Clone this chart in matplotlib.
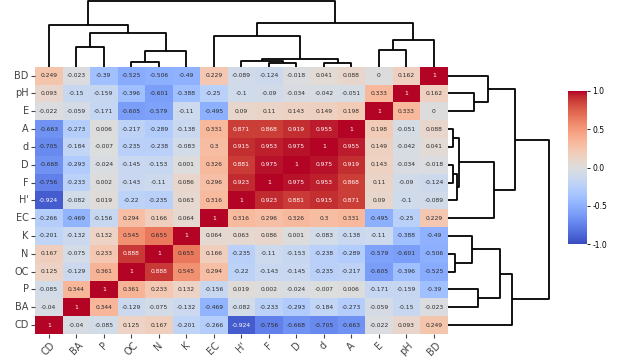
import numpy as np
import pandas as pd
import matplotlib
matplotlib.use("Agg")
import matplotlib.pyplot as plt
import seaborn as sns

plt.rcParams["axes.unicode_minus"] = False

labels = ["CD", "BA", "P", "OC", "N", "K", "EC", "H'", "F", "D", "d", "A", "E", "pH", "BD"]

corr_CD = [1, -0.04, -0.085, 0.125, 0.167, -0.201, -0.266, -0.924, -0.756, -0.668, -0.705, -0.663, -0.022, 0.093, 0.249]
corr_BA = [-0.04, 1, 0.344, -0.129, -0.075, -0.132, -0.469, -0.082, -0.233, -0.293, -0.184, -0.273, -0.059, -0.15, -0.023]
corr_P = [-0.085, 0.344, 1, 0.361, 0.233, 0.132, -0.156, 0.019, 0.002, -0.024, -0.007, 0.006, -0.171, -0.159, -0.39]
corr_OC = [0.125, -0.129, 0.361, 1, 0.888, 0.545, 0.294, -0.22, -0.143, -0.145, -0.235, -0.217, -0.605, -0.396, -0.525]
corr_N = [0.167, -0.075, 0.233, 0.888, 1, 0.655, 0.166, -0.235, -0.11, -0.153, -0.238, -0.289, -0.579, -0.601, -0.506]
corr_K = [-0.201, -0.132, 0.132, 0.545, 0.655, 1, 0.064, 0.063, 0.086, 0.001, -0.083, -0.138, -0.11, -0.388, -0.49]
corr_EC = [-0.266, -0.469, -0.156, 0.294, 0.166, 0.064, 1, 0.316, 0.296, 0.326, 0.3, 0.331, -0.495, -0.25, 0.229]
corr_Hp = [-0.924, -0.082, 0.019, -0.22, -0.235, 0.063, 0.316, 1, 0.923, 0.881, 0.915, 0.871, 0.09, -0.1, -0.089]
corr_F = [-0.756, -0.233, 0.002, -0.143, -0.11, 0.086, 0.296, 0.923, 1, 0.975, 0.953, 0.868, 0.11, -0.09, -0.124]
corr_D = [-0.668, -0.293, -0.024, -0.145, -0.153, 0.001, 0.326, 0.881, 0.975, 1, 0.975, 0.919, 0.143, -0.034, -0.018]
corr_d = [-0.705, -0.184, -0.007, -0.235, -0.238, -0.083, 0.3, 0.915, 0.953, 0.975, 1, 0.955, 0.149, -0.042, 0.041]
corr_A = [-0.663, -0.273, 0.006, -0.217, -0.289, -0.138, 0.331, 0.871, 0.868, 0.919, 0.955, 1, 0.198, -0.051, 0.088]
corr_E = [-0.022, -0.059, -0.171, -0.605, -0.579, -0.11, -0.495, 0.09, 0.11, 0.143, 0.149, 0.198, 1, 0.333, 0]
corr_pH = [0.093, -0.15, -0.159, -0.396, -0.601, -0.388, -0.25, -0.1, -0.09, -0.034, -0.042, -0.051, 0.333, 1, 0.162]
corr_BD = [0.249, -0.023, -0.39, -0.525, -0.506, -0.49, 0.229, -0.089, -0.124, -0.018, 0.041, 0.088, 0, 0.162, 1]

# hierarchical clustering tree (name, left child, right child, relative height)
merges = [
    ("c0", "OC", "N", 0.07),
    ("c1", "F", "D", 0.05),
    ("c2", "d", "A", 0.05),
    ("c3", "H'", "c1", 0.09),
    ("c4", "c3", "c2", 0.11),
    ("c5", "E", "pH", 0.26),
    ("c6", "BA", "P", 0.30),
    ("c7", "c0", "K", 0.24),
    ("c8", "c5", "BD", 0.40),
    ("c9", "EC", "c4", 0.46),
    ("c10", "c6", "c7", 0.52),
    ("c11", "CD", "c10", 0.63),
    ("c12", "c9", "c8", 0.66),
    ("c13", "c11", "c12", 1.00),
]

corr = np.array([corr_CD, corr_BA, corr_P, corr_OC, corr_N, corr_K, corr_EC, corr_Hp,
                 corr_F, corr_D, corr_d, corr_A, corr_E, corr_pH, corr_BD])
df = pd.DataFrame(corr, index=labels, columns=labels)

W, H = 618, 359
fig = plt.figure(figsize=(W / 100, H / 100), dpi=100)

def px_axes(x0, y0, x1, y1):
    return fig.add_axes([x0 / W, 1 - y1 / H, (x1 - x0) / W, (y1 - y0) / H])

hm_l, hm_t, hm_r, hm_b = 35, 66.7, 447.7, 334
ax = px_axes(hm_l, hm_t, hm_r, hm_b)
cax = px_axes(568, 91, 587, 244)
axt = px_axes(hm_l, 0, hm_r, hm_t)
axr = px_axes(hm_r, hm_t, hm_r + 105, hm_b)

shown = df.iloc[::-1]
sns.heatmap(shown, ax=ax, cbar_ax=cax, cmap="coolwarm", vmin=-1, vmax=1, annot=False)
for i, rname in enumerate(shown.index):
    for j, cname in enumerate(shown.columns):
        v = shown.loc[rname, cname]
        col = "white" if abs(v) > 0.8 else "#2b2b2b"
        ax.text(j + 0.5, i + 0.5, format(v, "g"), ha="center", va="center",
                fontsize=4.3, color=col)

ax.set_xticklabels(labels, rotation=45, fontsize=7, color="#444444")
ax.set_yticklabels(labels[::-1], rotation=0, fontsize=7, color="#444444")
ax.tick_params(axis="both", length=3, width=0.8, color="#444444", pad=1.5)

cax.tick_params(labelsize=5.5, length=2.5, width=0.6, pad=1.5)
cax.set_yticks([-1, -0.5, 0, 0.5, 1])
cax.set_yticklabels(["-1.0", "-0.5", "0.0", "0.5", "1.0"])

# dendrogram geometry
pos = {name: i + 0.5 for i, name in enumerate(labels)}
hgt = {name: 0.0 for name in labels}
links = []
for name, a, b, h in merges:
    links.append(([pos[a], pos[a], pos[b], pos[b]], [hgt[a], h, h, hgt[b]]))
    pos[name] = (pos[a] + pos[b]) / 2
    hgt[name] = h

for xs, ys in links:
    axt.plot(xs, ys, color="black", lw=1.3, solid_capstyle="butt")
    axr.plot(ys, xs, color="black", lw=1.3, solid_capstyle="butt")

axt.set_xlim(0, len(labels))
axt.set_ylim(0, 1.015)
axr.set_ylim(0, len(labels))
axr.set_xlim(0, 1.036)
for a in (axt, axr):
    a.axis("off")

fig.savefig("out.png", dpi=100)
